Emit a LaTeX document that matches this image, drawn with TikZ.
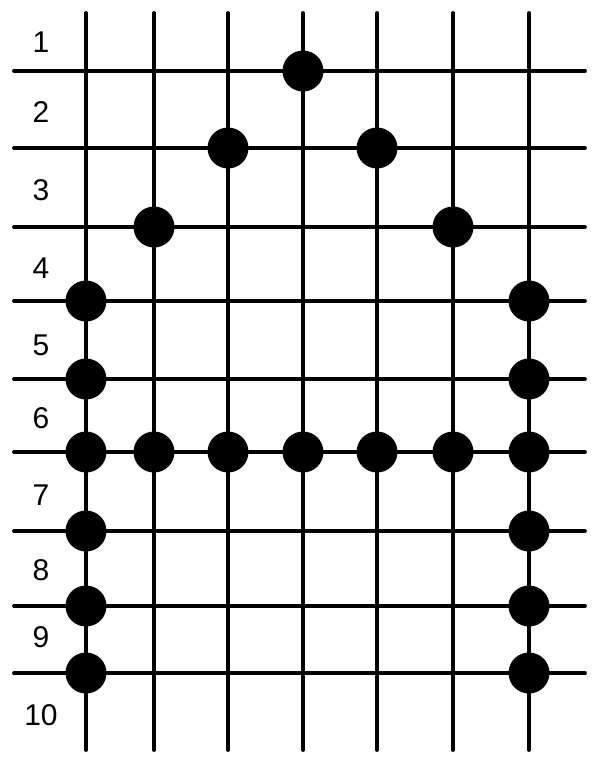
\documentclass[tikz,border=0pt]{standalone}
\usepackage{fontspec}
\setmainfont{Liberation Sans}
\begin{document}
\begin{tikzpicture}[x=1pt,y=-1pt,
    garis/.style={line width=3.8pt,line cap=round},
    titik/.style={circle,fill=black,inner sep=0pt,minimum size=41pt},
    nomor/.style={font=\fontsize{30}{36}\selectfont}]

    \useasboundingbox (0,0) rectangle (603,764);

    % Garis vertikal (kolom)
    \foreach \i/\x in {1/86,2/154,3/228,4/303,5/377,6/453,7/529}{
        \coordinate (k\i-atas) at (\x,13);
        \coordinate (k\i-bawah) at (\x,750);
        \draw[garis] (k\i-atas) -- (k\i-bawah);
    }

    % Garis horizontal (baris)
    \foreach \j/\y in {1/71,2/148,3/227,4/301,5/379,6/452,7/531,8/606,9/673}{
        \coordinate (b\j-kiri) at (14,\y);
        \coordinate (b\j-kanan) at (585,\y);
        \draw[garis] (b\j-kiri) -- (b\j-kanan);
    }

    % Nomor baris
    \foreach \n/\y in {1/42,2/112,3/190,4/268,5/345,6/418,7/495,8/570,9/637,10/715}{
        \node[nomor] (n\n) at (41,\y) {\n};
    }

    % Titik hitam
    \foreach \j/\i in {1/4, 2/3,2/5, 3/2,3/6, 4/1,4/7, 5/1,5/7,
        6/1,6/2,6/3,6/4,6/5,6/6,6/7, 7/1,7/7, 8/1,8/7, 9/1,9/7}{
        \node[titik] (t\j-\i) at (k\i-atas |- b\j-kiri) {};
    }

\end{tikzpicture}
\end{document}
